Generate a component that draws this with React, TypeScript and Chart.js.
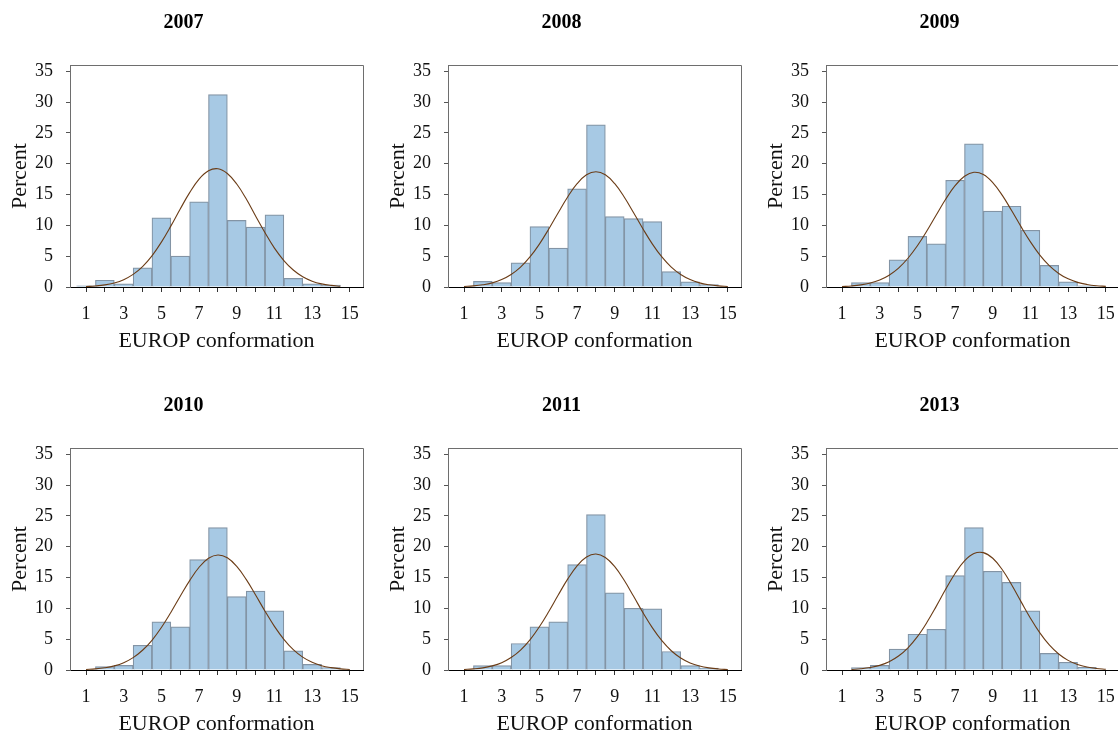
import React, { useEffect, useRef } from "react";
import { Chart, registerables } from "chart.js";

Chart.register(...registerables);

// ---------- data ----------
const years = ["2007", "2008", "2009", "2010", "2011", "2013"];

const bins = [1, 2, 3, 4, 5, 6, 7, 8, 9, 10, 11, 12, 13, 14, 15];

const xTickValues = [1, 2, 3, 4, 5, 6, 7, 8, 9, 10, 11, 12, 13, 14, 15];
const xTickLabels = ["1", "", "3", "", "5", "", "7", "", "9", "", "11", "", "13", "", "15"];
const yTickValues = [0, 5, 10, 15, 20, 25, 30, 35];

// percent of carcasses in each EUROP conformation class
const pct2007 = [0.2, 1.1, 0.5, 3.1, 11.2, 5.0, 13.8, 31.2, 10.8, 9.7, 11.7, 1.4, 0.5, 0.3, 0];
const pct2008 = [0, 0.9, 0.7, 3.9, 9.8, 6.3, 15.9, 26.3, 11.4, 11.1, 10.6, 2.5, 0.85, 0.4, 0];
const pct2009 = [0, 0.7, 0.7, 4.4, 8.2, 7.0, 17.3, 23.2, 12.3, 13.1, 9.2, 3.5, 0.85, 0.2, 0];
const pct2010 = [0, 0.55, 0.75, 4.0, 7.8, 7.0, 17.9, 23.1, 11.9, 12.8, 9.6, 3.1, 0.9, 0.4, 0];
const pct2011 = [0, 0.7, 0.7, 4.3, 7.0, 7.8, 17.1, 25.2, 12.5, 10.0, 9.9, 3.0, 0.7, 0.3, 0];
const pct2013 = [0, 0.4, 0.75, 3.4, 5.8, 6.6, 15.3, 23.1, 16.0, 14.2, 9.6, 2.7, 1.25, 0.45, 0];

// fitted normal curve, read at half-class steps
const curveX = [1, 1.5, 2, 2.5, 3, 3.5, 4, 4.5, 5, 5.5, 6, 6.5, 7, 7.5, 8, 8.5, 9, 9.5, 10, 10.5, 11, 11.5, 12, 12.5, 13, 13.5, 14, 14.5, 15];
const fit2007 = [0.08, 0.17, 0.34, 0.66, 1.19, 2.04, 3.31, 5.05, 7.27, 9.87, 12.65, 15.3, 17.5, 18.85, 19.18, 18.4, 16.7, 14.3, 11.5, 8.8, 6.3, 4.29, 2.75, 1.66, 0.95, 0.51, 0.26, 0.12, null];
const fit2008 = [0.09, 0.18, 0.36, 0.67, 1.2, 2.02, 3.22, 4.87, 6.96, 9.41, 12.05, 14.6, 16.75, 18.2, 18.7, 18.2, 16.75, 14.6, 12.05, 9.41, 6.96, 4.87, 3.22, 2.02, 1.2, 0.67, 0.36, 0.18, 0.09];
const fit2009 = [0.08, 0.17, 0.34, 0.64, 1.14, 1.92, 3.07, 4.66, 6.68, 9.07, 11.68, 14.23, 16.43, 17.95, 18.6, 18.23, 16.93, 14.9, 12.4, 9.79, 7.32, 5.18, 3.47, 2.2, 1.32, 0.75, 0.41, 0.21, 0.1];
const fit2010 = [0.09, 0.18, 0.36, 0.67, 1.19, 2.01, 3.2, 4.82, 6.89, 9.33, 11.96, 14.5, 16.66, 18.12, 18.66, 18.2, 16.8, 14.7, 12.16, 9.54, 7.08, 4.98, 3.31, 2.09, 1.25, 0.7, 0.38, 0.19, 0.09];
const fit2011 = [0.08, 0.18, 0.35, 0.67, 1.19, 2.02, 3.23, 4.89, 7.01, 9.49, 12.16, 14.74, 16.9, 18.33, 18.8, 18.24, 16.75, 14.55, 11.95, 9.28, 6.83, 4.75, 3.12, 1.94, 1.14, 0.64, 0.34, 0.17, 0.08];
const fit2013 = [null, 0.09, 0.2, 0.4, 0.75, 1.34, 2.26, 3.6, 5.41, 7.69, 10.32, 13.08, 15.65, 17.69, 18.88, 19.03, 18.12, 16.29, 13.83, 11.09, 8.4, 6.01, 4.06, 2.59, 1.56, 0.89, 0.48, 0.24, 0.12];

const panelBars = [pct2007, pct2008, pct2009, pct2010, pct2011, pct2013];
const panelFits = [fit2007, fit2008, fit2009, fit2010, fit2011, fit2013];

// ---------- style ----------
const FONT = "'Liberation Serif', 'Times New Roman', serif";
const CANVAS_W = 371;
const CANVAS_H = 368;
const COL_X = [0, 378, 756];
const ROW_Y = [0, 383];

const boxPlugin = {
  id: "plotBox",
  afterDatasetsDraw(chart: any) {
    const { ctx, chartArea } = chart;
    const { left, right, top, bottom } = chartArea;
    ctx.save();
    ctx.strokeStyle = "#6e6e6e";
    ctx.lineWidth = 1;
    ctx.beginPath();
    ctx.moveTo(left, top + 0.5);
    ctx.lineTo(right + 0.5, top + 0.5);
    ctx.lineTo(right + 0.5, bottom);
    ctx.stroke();
    ctx.restore();
  },
};

function Panel(props: { title: string; bars: number[]; fit: (number | null)[]; left: number; top: number }) {
  const ref = useRef<HTMLCanvasElement | null>(null);

  useEffect(() => {
    if (!ref.current) return;
    const chart = new Chart(ref.current, {
      type: "bar",
      data: {
        datasets: [
          {
            type: "line",
            data: curveX.map((x, i) => ({ x, y: props.fit[i] })) as any,
            borderColor: "#6b3c16",
            borderWidth: 1.1,
            pointRadius: 0,
            tension: 0.4,
            fill: false,
            order: 0,
          } as any,
          {
            type: "bar",
            data: bins.map((x, i) => ({ x, y: props.bars[i] })) as any,
            backgroundColor: "#a7c9e4",
            borderColor: "#8394a5",
            borderWidth: 1.2,
            barPercentage: 1,
            categoryPercentage: 1,
            order: 1,
          } as any,
        ],
      },
      options: {
        responsive: false,
        animation: false,
        events: [],
        layout: { padding: { left: 4, right: 8, top: 0, bottom: 0 } },
        plugins: {
          legend: { display: false },
          tooltip: { enabled: false },
          title: {
            display: true,
            text: props.title,
            color: "#000",
            font: { family: FONT, size: 20, weight: "bold" },
            padding: { top: 11, bottom: 30 },
          },
        },
        scales: {
          x: {
            type: "linear",
            offset: false,
            min: 0.15,
            max: 15.7,
            afterBuildTicks: (s: any) => {
              s.ticks = xTickValues.map((v) => ({ value: v }));
            },
            afterFit: (s: any) => {
              s.height = 81;
            },
            ticks: {
              autoSkip: false,
              maxRotation: 0,
              padding: 11,
              color: "#111",
              font: { family: FONT, size: 18 },
              callback: (_v: any, i: number) => xTickLabels[i],
            },
            grid: { offset: false, drawOnChartArea: false, drawTicks: true, tickLength: 5, color: "#333" },
            border: { display: true, color: "#000", width: 1 },
            title: {
              display: true,
              text: "EUROP conformation",
              color: "#111",
              font: { family: FONT, size: 22 },
              padding: { top: 0, bottom: 14 },
            },
          },
          y: {
            min: 0,
            max: 36,
            afterBuildTicks: (s: any) => {
              s.ticks = yTickValues.map((v) => ({ value: v }));
            },
            afterFit: (s: any) => {
              s.width = 66;
            },
            ticks: {
              padding: 13,
              color: "#111",
              font: { family: FONT, size: 18 },
            },
            grid: { drawOnChartArea: false, drawTicks: true, tickLength: 4, color: "#555" },
            border: { display: true, color: "#6e6e6e", width: 1 },
            title: {
              display: true,
              text: "Percent",
              color: "#111",
              font: { family: FONT, size: 22 },
              padding: { top: 3, bottom: 0 },
            },
          },
        },
      } as any,
      plugins: [boxPlugin],
    });
    return () => chart.destroy();
  }, []);

  return (
    <div style={{ position: "absolute", left: props.left, top: props.top, width: CANVAS_W, height: CANVAS_H }}>
      <canvas ref={ref} width={CANVAS_W} height={CANVAS_H} style={{ display: "block" }} />
    </div>
  );
}

export default function App() {
  return (
    <div
      style={{
        position: "absolute",
        left: 0,
        top: 0,
        width: 1118,
        height: 736,
        overflow: "hidden",
        background: "#fff",
      }}
    >
      {years.map((y, i) => (
        <Panel
          key={y}
          title={y}
          bars={panelBars[i]}
          fit={panelFits[i]}
          left={COL_X[i % 3]}
          top={ROW_Y[Math.floor(i / 3)]}
        />
      ))}
    </div>
  );
}
